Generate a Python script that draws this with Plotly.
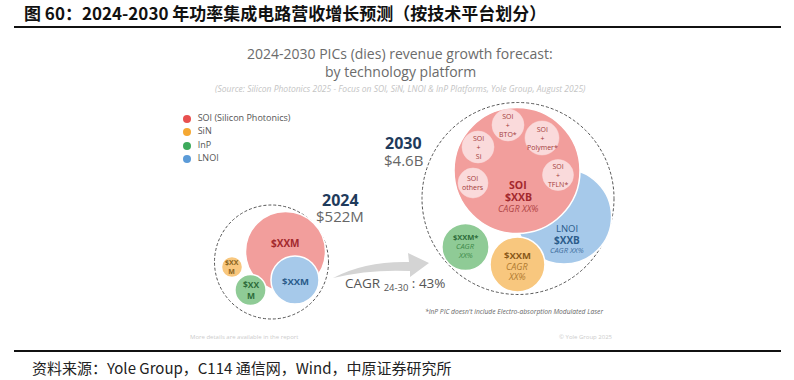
import math
import plotly.graph_objects as go

# ---------------- data ----------------
platforms = ["SOI (Silicon Photonics)", "SiN", "InP", "LNOI"]
years = ["2024", "2030"]
year_totals = ["$522M", "$4.6B"]
# estimated revenue by platform (M$)
rev_2024 = [330, 23, 50, 119]
rev_2030 = [2420, 460, 340, 1380]
labels_2024 = ["$XXM", "$XX<br>M", "$XX<br>M", "$XXM"]
cagr_total = "43%"
soi_sub = ["SOI<br>+<br>BTO*", "SOI<br>+<br>Polymer*", "SOI<br>+<br>Si", "SOI<br>others", "SOI<br>+<br>TFLN*"]

# ---------------- styles / layout geometry ----------------
W, H = 794, 380
FONT = "Open Sans"
CJK = "Noto Sans CJK SC"
legend_col = ["#E8504F", "#F5A833", "#3DAA5C", "#5B9BD8"]
fill_col = ["#F29E9C", "#F8C77E", "#8FCB96", "#A6C9EA"]
navy = "#1F3B5C"

# bubble centres (px) per platform, and per-year radius scale
centres_2024 = [(285.5, 251.5), (232, 267), (250.5, 290), (295, 280)]
centres_2030 = [(517, 170.5), (517.5, 264.5), (465.5, 247), (564, 216.5)]
k2024 = 40 / math.sqrt(rev_2024[0])
k2030 = 63 / math.sqrt(rev_2030[0])
outer_2024 = (271.5, 262, 57)
outer_2030 = (518, 198.5, 96)
soi_sub_geo = [(508, 125, 16), (542, 138, 17), (478, 147, 16), (473, 183, 15), (558, 175, 15.5)]

fig = go.Figure()
shapes = []
ann = []


def circle(cx, cy, r, fill, line_col="white", lw=1.5, dash="solid"):
    shapes.append(dict(type="circle", xref="x", yref="y",
                       x0=cx - r, x1=cx + r, y0=cy - r, y1=cy + r,
                       fillcolor=fill, line=dict(color=line_col, width=lw, dash=dash)))


def text(x, y, t, size, color, bold=False, italic=False, anchor="center", family=FONT):
    if bold:
        t = "<b>" + t.replace("<br>", "</b><br><b>") + "</b>"
    if italic:
        t = "<i>" + t.replace("<br>", "</i><br><i>") + "</i>"
    ann.append(dict(x=x, y=y, xref="x", yref="y", text=t, showarrow=False,
                    xanchor=anchor, yanchor="middle",
                    font=dict(size=size, color=color, family=family)))


# header / footer rules
shapes.append(dict(type="line", xref="x", yref="y", x0=14, x1=781, y0=27, y1=27,
                   line=dict(color="#111", width=2)))
shapes.append(dict(type="line", xref="x", yref="y", x0=14, x1=781, y0=351, y1=351,
                   line=dict(color="#111", width=2)))
text(22, 12, "图 60：2024-2030 年功率集成电路营收增长预测（按技术平台划分）", 17, "#111",
     bold=True, anchor="left", family=CJK)
text(30, 367, "资料来源：Yole Group，C114 通信网，Wind，中原证券研究所", 15, "#222",
     anchor="left", family=CJK)

# chart titles
text(400, 53, "2024-2030 PICs (dies) revenue growth forecast:", 14, "#6B6B6B")
text(400, 71, "by technology platform", 14, "#6B6B6B")
text(400, 88, "(Source: Silicon Photonics 2025 - Focus on SOI, SiN, LNOI & InP Platforms, Yole Group, August 2025)",
     8.5, "#C4C4C4", italic=True)

# legend
leg_y = [119, 132, 146, 159]
fig.add_trace(go.Scatter(x=[187] * 4, y=leg_y, mode="markers+text",
                         marker=dict(size=8, color=legend_col),
                         text=["  " + p for p in platforms], textposition="middle right",
                         textfont=dict(size=9, color="#555", family=FONT),
                         hoverinfo="skip", showlegend=False))

# ---------------- 2024 cluster ----------------
ox, oy, orr = outer_2024
circle(ox, oy, orr, "rgba(0,0,0,0)", "#555", 1, "3px,2px")
for i in [0, 1, 2, 3]:
    cx, cy = centres_2024[i]
    circle(cx, cy, k2024 * math.sqrt(rev_2024[i]), fill_col[i])
text(285.5, 243, labels_2024[0], 10, "#A3282D", bold=True)
text(232, 267, labels_2024[1], 7, "#8A6420", bold=True)
text(251, 290, labels_2024[2], 8.5, "#2E6B3A", bold=True)
text(295, 281, labels_2024[3], 9.5, "#2B5C8A", bold=True)
text(340, 200, years[0], 16, navy, bold=True)
text(340, 216, year_totals[0], 15, "#666")

# ---------------- 2030 cluster ----------------
ox, oy, orr = outer_2030
circle(ox, oy, orr, "rgba(0,0,0,0)", "#555", 1, "3px,2px")
for i in [3, 0, 2, 1]:
    cx, cy = centres_2030[i]
    circle(cx, cy, k2030 * math.sqrt(rev_2030[i]), fill_col[i])
for (cx, cy, r), lab in zip(soi_sub_geo, soi_sub):
    circle(cx, cy, r, "#FADADB", "#FADADB", 0.5)
    text(cx, cy, lab, 7, "#A33A3A")
text(518, 185, "SOI", 10.5, "#A3282D", bold=True)
text(518, 197, "$XXB", 10.5, "#A3282D", bold=True)
text(518, 208, "CAGR XX%", 9, "#B04545", italic=True)
text(567, 228, "LNOI", 9.5, "#2B5C8A")
text(567, 240, "$XXB", 10, "#2B5C8A", bold=True)
text(567, 250, "CAGR XX%", 7.5, "#3F6F9E", italic=True)
text(465, 237, "$XXM*", 7.5, "#2E6B3A", bold=True)
text(465, 246, "CAGR", 7.5, "#3E8A4A", italic=True)
text(465, 255, "XX%", 7.5, "#3E8A4A", italic=True)
text(517, 255, "$XXM", 9.5, "#8A5A1A", bold=True)
text(517, 266, "CAGR", 9, "#B07A30", italic=True)
text(517, 276, "XX%", 9, "#B07A30", italic=True)
text(403, 143, years[1], 16, navy, bold=True)
text(403, 160, year_totals[1], 15, "#666")

# CAGR arrow
shapes.append(dict(type="path", xref="x", yref="y",
                   path="M 333,278 Q 365,261 409,262 L 408,253 L 429,263 L 410,277 L 410,271 Q 370,269 333,278 Z",
                   fillcolor="#D4D4D4", line=dict(width=0), layer="below"))
text(343, 284, "CAGR <sub>24-30</sub> : " + cagr_total, 13.5, "#555", anchor="left")

# footnotes
text(514, 311, "*InP PIC doesn't include Electro-absorption Modulated Laser", 6.7, "#666", italic=True)
text(188, 337, "More details are available in the report", 6, "#CCCCCC", anchor="left")
text(615, 337, "© Yole Group 2025", 6, "#CCCCCC", anchor="right")

fig.update_layout(width=W, height=H, margin=dict(l=0, r=0, t=0, b=0),
                  paper_bgcolor="white", plot_bgcolor="white",
                  xaxis=dict(range=[0, W], visible=False, fixedrange=True),
                  yaxis=dict(range=[H, 0], visible=False, fixedrange=True),
                  shapes=shapes, annotations=ann, showlegend=False)
fig.write_html("out.html", config={"displayModeBar": False},
               post_script="document.body.style.margin='0';document.body.style.overflow='hidden';")
